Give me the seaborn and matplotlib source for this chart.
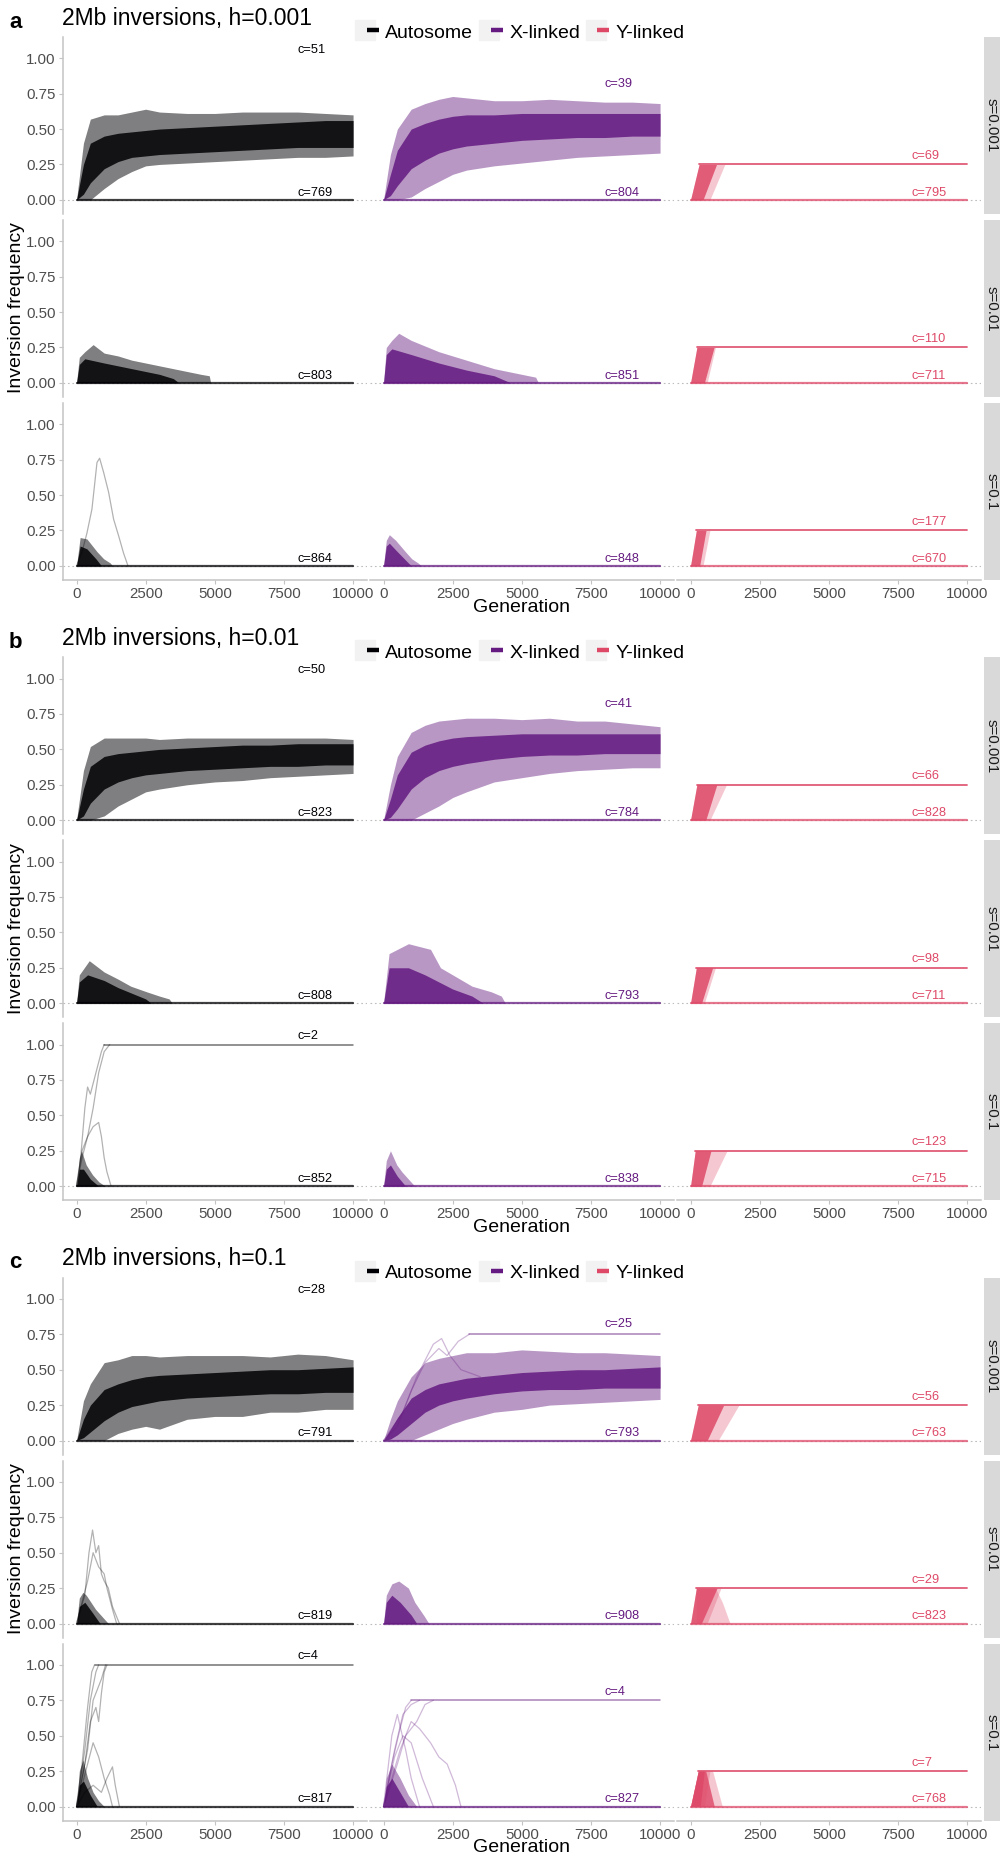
import matplotlib
matplotlib.use("Agg")
import numpy as np
import pandas as pd
import matplotlib.pyplot as plt
import seaborn as sns
from matplotlib.lines import Line2D
from matplotlib.legend_handler import HandlerTuple

# ---------------- data ----------------
PANEL_LABELS = ["a", "b", "c"]
TITLES = ["2Mb inversions, h=0.001", "2Mb inversions, h=0.01", "2Mb inversions, h=0.1"]
CHROMS = ["Autosome", "X-linked", "Y-linked"]
S_LABELS = ["s=0.001", "s=0.01", "s=0.1"]
COLORS = ["#000004", "#641A80", "#DE4968"]
X_TICKS = [0, 2500, 5000, 7500, 10000]
Y_TICKS = [0, 0.25, 0.5, 0.75, 1.0]
Y_TICK_LABELS = ["0.00", "0.25", "0.50", "0.75", "1.00"]
GEN_END = 10000

# growth facets (s=0.001): outer envelope hi/lo and dense core hi/lo
GEN_GROW = [0, 250, 500, 1000, 1500, 2000, 2500, 3000, 4000, 5000, 6000, 7000, 8000, 9000, 10000]
A_AUTO1_HI = [0, .40, .57, .60, .60, .62, .64, .62, .61, .61, .62, .62, .62, .61, .60]
A_AUTO1_LO = [0, 0, 0, .08, .15, .20, .24, .25, .26, .27, .28, .29, .30, .30, .31]
A_AUTO1_CHI = [0, .25, .40, .45, .47, .48, .49, .50, .51, .52, .53, .54, .55, .56, .56]
A_AUTO1_CLO = [0, .04, .12, .22, .27, .30, .31, .32, .33, .34, .35, .36, .37, .37, .37]
A_X1_HI = [0, .32, .50, .64, .68, .71, .73, .72, .70, .70, .71, .70, .69, .69, .68]
A_X1_LO = [0, 0, 0, .02, .08, .13, .18, .21, .24, .26, .28, .30, .31, .32, .33]
A_X1_CHI = [0, .18, .35, .50, .54, .57, .59, .60, .60, .61, .61, .61, .61, .61, .61]
A_X1_CLO = [0, .03, .10, .22, .28, .33, .36, .38, .40, .42, .43, .44, .44, .45, .45]
B_AUTO1_HI = [0, .35, .52, .58, .58, .58, .58, .57, .58, .58, .58, .58, .58, .58, .57]
B_AUTO1_LO = [0, 0, 0, .03, .10, .15, .20, .22, .25, .27, .28, .30, .31, .32, .33]
B_AUTO1_CHI = [0, .22, .38, .45, .47, .48, .49, .50, .51, .52, .53, .53, .54, .54, .54]
B_AUTO1_CLO = [0, .03, .12, .22, .27, .30, .32, .33, .35, .36, .37, .38, .38, .39, .39]
B_X1_HI = [0, .25, .45, .62, .67, .70, .71, .72, .72, .71, .72, .70, .70, .68, .66]
B_X1_LO = [0, 0, 0, 0, .05, .10, .16, .20, .27, .30, .33, .35, .36, .37, .37]
B_X1_CHI = [0, .15, .32, .48, .53, .56, .58, .59, .60, .61, .61, .61, .61, .61, .61]
B_X1_CLO = [0, .02, .08, .22, .30, .35, .38, .40, .43, .45, .46, .46, .47, .47, .47]
C_AUTO1_HI = [0, .28, .40, .55, .57, .60, .60, .59, .60, .60, .60, .59, .61, .60, .57]
C_AUTO1_LO = [0, 0, 0, 0, .05, .08, .10, .08, .15, .17, .17, .20, .20, .22, .22]
C_AUTO1_CHI = [0, .15, .25, .36, .40, .43, .45, .46, .47, .48, .49, .50, .50, .51, .52]
C_AUTO1_CLO = [0, .02, .06, .14, .20, .24, .26, .28, .30, .31, .32, .33, .33, .34, .34]
C_X1_HI = [0, .15, .28, .45, .55, .58, .60, .62, .62, .64, .63, .62, .62, .61, .60]
C_X1_LO = [0, 0, 0, 0, .04, .08, .12, .15, .20, .22, .25, .26, .27, .28, .29]
C_X1_CHI = [0, .08, .16, .30, .36, .40, .42, .44, .46, .48, .49, .50, .50, .51, .52]
C_X1_CLO = [0, .01, .04, .12, .20, .25, .28, .30, .33, .35, .36, .36, .37, .37, .37]

# decaying facets: upper envelope (outer) and dense-core upper envelope
A_AUTO2_GEN = [0, 100, 300, 600, 1000, 1500, 2000, 2500, 3000, 3500, 4000, 4500, 4800, 4850]
A_AUTO2_HI = [0, .18, .22, .27, .21, .19, .16, .14, .12, .10, .08, .06, .05, 0]
A_AUTO2_CGEN = [0, 100, 300, 1000, 2000, 3000, 3500, 3700]
A_AUTO2_CHI = [0, .13, .17, .14, .10, .06, .03, 0]
A_X2_GEN = [0, 100, 300, 550, 1000, 1500, 2000, 2500, 3000, 3500, 4000, 4500, 5000, 5500, 5600]
A_X2_HI = [0, .25, .30, .35, .30, .26, .22, .19, .16, .13, .10, .08, .06, .04, 0]
A_X2_CGEN = [0, 100, 300, 1000, 2000, 3000, 4000, 4600]
A_X2_CHI = [0, .20, .24, .20, .14, .09, .05, 0]
A_AUTO3_GEN = [0, 130, 375, 740, 980, 1220, 1300]
A_AUTO3_HI = [0, .20, .19, .10, .05, .02, 0]
A_AUTO3_CGEN = [0, 130, 375, 700, 900]
A_AUTO3_CHI = [0, .14, .12, .05, 0]
A_X3_GEN = [0, 100, 210, 440, 790, 1020, 1250, 1370]
A_X3_HI = [0, .18, .22, .18, .10, .05, .02, 0]
A_X3_CGEN = [0, 100, 210, 500, 800, 1000]
A_X3_CHI = [0, .14, .16, .10, .04, 0]
B_AUTO2_GEN = [0, 100, 460, 1000, 1500, 1960, 2540, 3000, 3350, 3460]
B_AUTO2_HI = [0, .20, .30, .22, .17, .12, .08, .05, .03, 0]
B_AUTO2_CGEN = [0, 100, 400, 1000, 1500, 2000, 2500, 2700]
B_AUTO2_CHI = [0, .15, .20, .16, .11, .07, .03, 0]
B_X2_GEN = [0, 200, 900, 1700, 2060, 2500, 3200, 3900, 4260, 4400]
B_X2_HI = [0, .35, .42, .38, .25, .20, .12, .08, .05, 0]
B_X2_CGEN = [0, 200, 900, 1500, 2500, 3200, 3600]
B_X2_CHI = [0, .25, .25, .20, .10, .05, 0]
B_AUTO3_GEN = [0, 100, 180, 350, 580, 810, 1040]
B_AUTO3_HI = [0, .20, .25, .15, .08, .03, 0]
B_AUTO3_CGEN = [0, 100, 250, 500, 800]
B_AUTO3_CHI = [0, .12, .12, .05, 0]
B_X3_GEN = [0, 100, 250, 480, 670, 900, 1130]
B_X3_HI = [0, .18, .25, .15, .10, .05, 0]
B_X3_CGEN = [0, 100, 250, 500, 800]
B_X3_CHI = [0, .12, .15, .07, 0]
C_AUTO2_GEN = [0, 100, 230, 350, 690, 920, 1150]
C_AUTO2_HI = [0, .18, .22, .20, .10, .05, 0]
C_AUTO2_CGEN = [0, 100, 300, 600, 850]
C_AUTO2_CHI = [0, .12, .15, .07, 0]
C_X2_GEN = [0, 100, 300, 550, 900, 1130, 1480, 1640]
C_X2_HI = [0, .20, .28, .30, .25, .15, .05, 0]
C_X2_CGEN = [0, 100, 300, 600, 1000, 1200]
C_X2_CHI = [0, .15, .20, .15, .06, 0]
C_AUTO3_GEN = [0, 100, 230, 400, 600, 800, 1000]
C_AUTO3_HI = [0, .25, .33, .20, .10, .04, 0]
C_AUTO3_CGEN = [0, 100, 250, 500, 750]
C_AUTO3_CHI = [0, .15, .18, .08, 0]
C_X3_GEN = [0, 100, 300, 600, 900, 1200]
C_X3_HI = [0, .20, .30, .20, .08, 0]
C_X3_CGEN = [0, 100, 300, 600, 900]
C_X3_CHI = [0, .14, .20, .10, 0]

# individual outlying trajectories (generation, frequency)
A_AUTO3_OUT_GEN = [0, 200, 375, 557, 740, 835, 980, 1160, 1340, 1525, 1700, 1860]
A_AUTO3_OUT_FREQ = [0, .10, .23, .40, .73, .76, .66, .52, .33, .21, .09, 0]
B_AUTO3_OUT1_GEN = [0, 150, 300, 400, 500, 700, 900, 1000]
B_AUTO3_OUT1_FREQ = [0, .20, .55, .70, .65, .80, .95, 1.0]
B_AUTO3_OUT2_GEN = [0, 200, 400, 600, 800, 1000, 1200]
B_AUTO3_OUT2_FREQ = [0, .20, .35, .55, .80, .95, 1.0]
B_AUTO3_OUT3_GEN = [0, 200, 400, 600, 800, 900, 1000, 1100, 1250]
B_AUTO3_OUT3_FREQ = [0, .25, .35, .42, .45, .35, .20, .10, 0]
C_X1_OUT1_GEN = [0, 500, 1000, 1500, 2000, 2300, 2700, 3100]
C_X1_OUT1_FREQ = [0, .10, .35, .55, .65, .60, .70, .75]
C_X1_OUT2_GEN = [0, 700, 1200, 1800, 2100, 2400, 2800, 3500]
C_X1_OUT2_FREQ = [0, .20, .45, .68, .72, .60, .50, .45]
C_AUTO2_OUT1_GEN = [0, 300, 450, 580, 700, 800, 900, 1000, 1150, 1300, 1550]
C_AUTO2_OUT1_FREQ = [0, .20, .50, .66, .50, .55, .35, .30, .25, .12, 0]
C_AUTO2_OUT2_GEN = [0, 400, 600, 800, 1000, 1100, 1300, 1450]
C_AUTO2_OUT2_FREQ = [0, .30, .50, .40, .35, .25, .10, 0]
C_AUTO3_OUT1_GEN = [0, 200, 400, 550, 650]
C_AUTO3_OUT1_FREQ = [0, .30, .70, .95, 1.0]
C_AUTO3_OUT2_GEN = [0, 300, 500, 700, 800]
C_AUTO3_OUT2_FREQ = [0, .40, .75, .95, 1.0]
C_AUTO3_OUT3_GEN = [0, 300, 500, 700, 800, 900, 1000, 1100]
C_AUTO3_OUT3_FREQ = [0, .30, .60, .70, .60, .80, .95, 1.0]
C_AUTO3_OUT4_GEN = [0, 400, 600, 900, 1050]
C_AUTO3_OUT4_FREQ = [0, .40, .75, .90, 1.0]
C_AUTO3_OUT5_GEN = [0, 300, 600, 900, 1100, 1300, 1400, 1550]
C_AUTO3_OUT5_FREQ = [0, .10, .15, .10, .20, .28, .15, 0]
C_AUTO3_OUT6_GEN = [0, 400, 600, 800, 1000, 1200, 1300]
C_AUTO3_OUT6_FREQ = [0, .30, .45, .35, .20, .08, 0]
C_X3_OUT1_GEN = [0, 300, 600, 800, 1000]
C_X3_OUT1_FREQ = [0, .30, .55, .70, .75]
C_X3_OUT2_GEN = [0, 400, 700, 1000, 1300]
C_X3_OUT2_FREQ = [0, .40, .65, .72, .75]
C_X3_OUT3_GEN = [0, 500, 800, 1200, 1500, 1800]
C_X3_OUT3_FREQ = [0, .30, .50, .60, .72, .75]
C_X3_OUT4_GEN = [0, 600, 1000, 1300, 1700, 2000, 2300, 2600, 2800]
C_X3_OUT4_FREQ = [0, .40, .60, .55, .45, .35, .30, .15, 0]
C_X3_OUT5_GEN = [0, 300, 500, 800, 1000, 1300]
C_X3_OUT5_FREQ = [0, .50, .65, .40, .20, 0]
C_X3_OUT6_GEN = [0, 400, 700, 1000, 1400, 1800]
C_X3_OUT6_FREQ = [0, .35, .50, .45, .20, 0]

# fixed trajectories: (panel, row, column) -> frequency and generation reached
FIXED_LEVEL = {(1, 2, 0): 1.0, (2, 2, 0): 1.0, (2, 0, 1): 0.75, (2, 2, 1): 0.75}
FIXED_START = {(1, 2, 0): 1000, (2, 2, 0): 650, (2, 0, 1): 3100, (2, 2, 1): 1000}

# Y-linked: rise to 0.25 (dense and light spread), panels x rows
Y_LEVEL = 0.25
Y_TL = [[310, 230, 210], [230, 210, 170], [280, 210, 280]]
Y_BR = [[450, 500, 330], [550, 400, 400], [600, 390, 350]]
Y_TR = [[940, 850, 560], [950, 800, 740], [1200, 960, 500]]
Y_BR2 = [[700, 600, 450], [700, 500, 700], [1000, 600, 500]]
Y_TR2 = [[1240, 900, 700], [1300, 900, 1320], [1750, 1100, 700]]
C_Y2_DECAY_GEN = [210, 900, 1150, 1430]
C_Y2_DECAY_HI = [.25, .25, .15, 0]
C_Y3_DECAY_GEN = [0, 280, 550, 860]
C_Y3_DECAY_HI = [0, .25, .25, 0]
C_Y3_LIGHT_GEN = [0, 280, 800, 1150]
C_Y3_LIGHT_HI = [0, .25, .25, 0]

# count labels
UP_COUNT = [[[51, 39, 69], [None, None, 110], [None, None, 177]],
            [[50, 41, 66], [None, None, 98], [2, None, 123]],
            [[28, 25, 56], [None, None, 29], [4, 4, 7]]]
UP_Y = [[[1.06, .82, .31], [0, 0, .31], [0, 0, .31]],
        [[1.06, .82, .31], [0, 0, .31], [1.06, 0, .31]],
        [[1.06, .82, .31], [0, 0, .31], [1.06, .81, .31]]]
LOW_COUNT = [[[769, 804, 795], [803, 851, 711], [864, 848, 670]],
             [[823, 784, 828], [808, 793, 711], [852, 838, 715]],
             [[791, 793, 763], [819, 908, 823], [817, 827, 768]]]
LOW_Y = 0.05
LABEL_X = 8000

# ---------------- tables built from the data ----------------
GROW = {
    (0, 0, 0): (A_AUTO1_HI, A_AUTO1_LO, A_AUTO1_CHI, A_AUTO1_CLO),
    (0, 0, 1): (A_X1_HI, A_X1_LO, A_X1_CHI, A_X1_CLO),
    (1, 0, 0): (B_AUTO1_HI, B_AUTO1_LO, B_AUTO1_CHI, B_AUTO1_CLO),
    (1, 0, 1): (B_X1_HI, B_X1_LO, B_X1_CHI, B_X1_CLO),
    (2, 0, 0): (C_AUTO1_HI, C_AUTO1_LO, C_AUTO1_CHI, C_AUTO1_CLO),
    (2, 0, 1): (C_X1_HI, C_X1_LO, C_X1_CHI, C_X1_CLO),
}
DECAY = {
    (0, 1, 0): (A_AUTO2_GEN, A_AUTO2_HI, A_AUTO2_CGEN, A_AUTO2_CHI),
    (0, 1, 1): (A_X2_GEN, A_X2_HI, A_X2_CGEN, A_X2_CHI),
    (0, 2, 0): (A_AUTO3_GEN, A_AUTO3_HI, A_AUTO3_CGEN, A_AUTO3_CHI),
    (0, 2, 1): (A_X3_GEN, A_X3_HI, A_X3_CGEN, A_X3_CHI),
    (1, 1, 0): (B_AUTO2_GEN, B_AUTO2_HI, B_AUTO2_CGEN, B_AUTO2_CHI),
    (1, 1, 1): (B_X2_GEN, B_X2_HI, B_X2_CGEN, B_X2_CHI),
    (1, 2, 0): (B_AUTO3_GEN, B_AUTO3_HI, B_AUTO3_CGEN, B_AUTO3_CHI),
    (1, 2, 1): (B_X3_GEN, B_X3_HI, B_X3_CGEN, B_X3_CHI),
    (2, 1, 0): (C_AUTO2_GEN, C_AUTO2_HI, C_AUTO2_CGEN, C_AUTO2_CHI),
    (2, 1, 1): (C_X2_GEN, C_X2_HI, C_X2_CGEN, C_X2_CHI),
    (2, 2, 0): (C_AUTO3_GEN, C_AUTO3_HI, C_AUTO3_CGEN, C_AUTO3_CHI),
    (2, 2, 1): (C_X3_GEN, C_X3_HI, C_X3_CGEN, C_X3_CHI),
}
OUTLIERS = {
    (0, 2, 0): [(A_AUTO3_OUT_GEN, A_AUTO3_OUT_FREQ)],
    (1, 2, 0): [(B_AUTO3_OUT1_GEN, B_AUTO3_OUT1_FREQ), (B_AUTO3_OUT2_GEN, B_AUTO3_OUT2_FREQ),
                (B_AUTO3_OUT3_GEN, B_AUTO3_OUT3_FREQ)],
    (2, 0, 1): [(C_X1_OUT1_GEN, C_X1_OUT1_FREQ), (C_X1_OUT2_GEN, C_X1_OUT2_FREQ)],
    (2, 1, 0): [(C_AUTO2_OUT1_GEN, C_AUTO2_OUT1_FREQ), (C_AUTO2_OUT2_GEN, C_AUTO2_OUT2_FREQ)],
    (2, 2, 0): [(C_AUTO3_OUT1_GEN, C_AUTO3_OUT1_FREQ), (C_AUTO3_OUT2_GEN, C_AUTO3_OUT2_FREQ),
                (C_AUTO3_OUT3_GEN, C_AUTO3_OUT3_FREQ), (C_AUTO3_OUT4_GEN, C_AUTO3_OUT4_FREQ),
                (C_AUTO3_OUT5_GEN, C_AUTO3_OUT5_FREQ), (C_AUTO3_OUT6_GEN, C_AUTO3_OUT6_FREQ)],
    (2, 2, 1): [(C_X3_OUT1_GEN, C_X3_OUT1_FREQ), (C_X3_OUT2_GEN, C_X3_OUT2_FREQ),
                (C_X3_OUT3_GEN, C_X3_OUT3_FREQ), (C_X3_OUT4_GEN, C_X3_OUT4_FREQ),
                (C_X3_OUT5_GEN, C_X3_OUT5_FREQ), (C_X3_OUT6_GEN, C_X3_OUT6_FREQ)],
}


def lines_frame(trajs):
    rows = []
    for u, (g, f) in enumerate(trajs):
        for gi, fi in zip(g, f):
            rows.append((u, gi, fi))
    return pd.DataFrame(rows, columns=["unit", "gen", "freq"])


# ---------------- styling ----------------
sns.set_theme(style="white")
plt.rcParams["font.family"] = ["Liberation Sans", "DejaVu Sans"]
plt.rcParams["text.color"] = "black"

W, H = 1000.0, 1861.0
PH = H / 3.0
COL_PX = [(62.7, 366.9), (369.7, 673.9), (676.7, 980.9)]
ROW_PX = [(37, 214), (220, 397), (403, 580)]
STRIP_PX = (983.5, 1000.0)
AXIS_GREY = "#C4C4C4"
TICK_TXT = "#4D4D4D"
OUTER_ALPHA = [0.5, 0.45, 0.3]


def rect(x0, x1, y0, y1, oy):
    return [x0 / W, 1 - (oy + y1) / H, (x1 - x0) / W, (y1 - y0) / H]


fig = plt.figure(figsize=(10, 18.61), dpi=100)

for p in range(3):
    oy = p * PH
    for r in range(3):
        for c in range(3):
            key = (p, r, c)
            col = COLORS[c]
            ax = fig.add_axes(rect(*COL_PX[c], *ROW_PX[r], oy))
            ax.set_xlim(-500, 10500)
            ax.set_ylim(-0.1, 1.15)
            ax.axhline(0, color="#BDBDBD", lw=0.8, ls=(0, (1.5, 2.5)), zorder=0)

            if key in GROW:
                hi, lo, chi, clo = GROW[key]
                ax.fill_between(GEN_GROW, lo, hi, color=col, alpha=OUTER_ALPHA[c], lw=0, zorder=2)
                ax.fill_between(GEN_GROW, clo, chi, color=col, alpha=0.85, lw=0, zorder=3)
            if key in DECAY:
                g, hi, cg, chi = DECAY[key]
                ax.fill_between(g, np.zeros(len(g)), hi, color=col, alpha=OUTER_ALPHA[c], lw=0, zorder=2)
                ax.fill_between(cg, np.zeros(len(cg)), chi, color=col, alpha=0.85, lw=0, zorder=3)
            if c == 2:
                tl, br, tr = Y_TL[p][r], Y_BR[p][r], Y_TR[p][r]
                br2, tr2 = Y_BR2[p][r], Y_TR2[p][r]
                ax.fill_betweenx([0, Y_LEVEL], [0, tl], [br2, tr2], color=col, alpha=0.3, lw=0, zorder=2)
                ax.fill_betweenx([0, Y_LEVEL], [0, tl], [br, tr], color=col, alpha=0.85, lw=0, zorder=3)
                if key == (2, 1, 2):
                    ax.fill_between(C_Y2_DECAY_GEN, 0, C_Y2_DECAY_HI, color=col, alpha=0.3, lw=0, zorder=2)
                if key == (2, 2, 2):
                    ax.fill_between(C_Y3_LIGHT_GEN, 0, C_Y3_LIGHT_HI, color=col, alpha=0.3, lw=0, zorder=2)
                    ax.fill_between(C_Y3_DECAY_GEN, 0, C_Y3_DECAY_HI, color=col, alpha=0.8, lw=0, zorder=3)
                fixed = [([tl, GEN_END], [Y_LEVEL, Y_LEVEL])]
                sns.lineplot(data=lines_frame(fixed), x="gen", y="freq", units="unit",
                             estimator=None, color=col, lw=1.3, alpha=0.9, ax=ax,
                             legend=False, zorder=4)
            if key in OUTLIERS:
                sns.lineplot(data=lines_frame(OUTLIERS[key]), x="gen", y="freq", units="unit",
                             estimator=None, color=col, lw=0.9, alpha=0.3, ax=ax,
                             legend=False, zorder=4)
            if key in FIXED_LEVEL:
                lvl, st = FIXED_LEVEL[key], FIXED_START[key]
                sns.lineplot(data=lines_frame([([st, GEN_END], [lvl, lvl])]), x="gen", y="freq",
                             units="unit", estimator=None, color=col, lw=1.1, alpha=0.55,
                             ax=ax, legend=False, zorder=4)
            # lost trajectories resting at zero
            sns.lineplot(data=lines_frame([([0, GEN_END], [0, 0])]), x="gen", y="freq",
                         units="unit", estimator=None, color=col, lw=1.6, alpha=0.75,
                         ax=ax, legend=False, zorder=5)

            # count labels
            up = UP_COUNT[p][r][c]
            if up is not None:
                ax.text(LABEL_X, UP_Y[p][r][c], f"c={up}", color=col, fontsize=9.2,
                        ha="left", va="center", zorder=6)
            ax.text(LABEL_X, LOW_Y, f"c={LOW_COUNT[p][r][c]}", color=col, fontsize=9.2,
                    ha="left", va="center", zorder=6)

            ax.set_xlabel("")
            ax.set_ylabel("")
            for sp in ax.spines.values():
                sp.set_visible(False)
            ax.set_xticks(X_TICKS)
            ax.set_yticks(Y_TICKS)
            ax.tick_params(axis="both", which="both", length=3, width=0.8, color=AXIS_GREY,
                           labelsize=10.8, labelcolor=TICK_TXT, pad=2)
            if c == 0:
                ax.spines["left"].set_visible(True)
                ax.spines["left"].set_color(AXIS_GREY)
                ax.spines["left"].set_linewidth(1.1)
                ax.set_yticklabels(Y_TICK_LABELS)
                ax.tick_params(axis="y", left=True)
            else:
                ax.tick_params(axis="y", left=False, labelleft=False)
            if r == 2:
                ax.spines["bottom"].set_visible(True)
                ax.spines["bottom"].set_color(AXIS_GREY)
                ax.spines["bottom"].set_linewidth(1.1)
                ax.set_xticklabels([str(t) for t in X_TICKS])
                ax.tick_params(axis="x", bottom=True)
            else:
                ax.tick_params(axis="x", bottom=False, labelbottom=False)
            ax.grid(False)
            ax.set_facecolor("none")

        # facet strip
        sax = fig.add_axes(rect(STRIP_PX[0], STRIP_PX[1], *ROW_PX[r], oy))
        sax.set_facecolor("#D9D9D9")
        sax.set_xticks([])
        sax.set_yticks([])
        for sp in sax.spines.values():
            sp.set_visible(False)
        sax.text(0.5, 0.5, S_LABELS[r], rotation=270, ha="center", va="center",
                 fontsize=10.8, color="#1A1A1A", transform=sax.transAxes)

    # panel decorations
    fig.text(9 / W, 1 - (oy + 22) / H, PANEL_LABELS[p], fontsize=16, fontweight="bold",
             ha="left", va="center", color="black")
    fig.text(62 / W, 1 - (oy + 18) / H, TITLES[p], fontsize=16.5, ha="left", va="center",
             color="black")
    fig.text(17 / W, 1 - (oy + 308) / H, "Inversion frequency", fontsize=14, rotation=90,
             ha="center", va="center", color="black")
    fig.text(522 / W, 1 - (oy + 607) / H, "Generation", fontsize=14, ha="center",
             va="center", color="black")
    handles = [(Line2D([], [], marker="s", markersize=14, color="#F2F2F2", ls="none"),
                Line2D([], [], marker="_", markersize=8, markeredgewidth=3.2,
                       color=COLORS[i], ls="none")) for i in range(3)]
    fig.legend(handles, CHROMS, loc="center", bbox_to_anchor=(523 / W, 1 - (oy + 32) / H),
               ncol=3, frameon=False, fontsize=14, handlelength=0.8, handleheight=1.0,
               handletextpad=0.45, columnspacing=0.6, borderpad=0, borderaxespad=0,
               labelcolor="black",
               handler_map={tuple: HandlerTuple(ndivide=None, pad=0)})

fig.savefig("out.png", dpi=100, facecolor="white")
